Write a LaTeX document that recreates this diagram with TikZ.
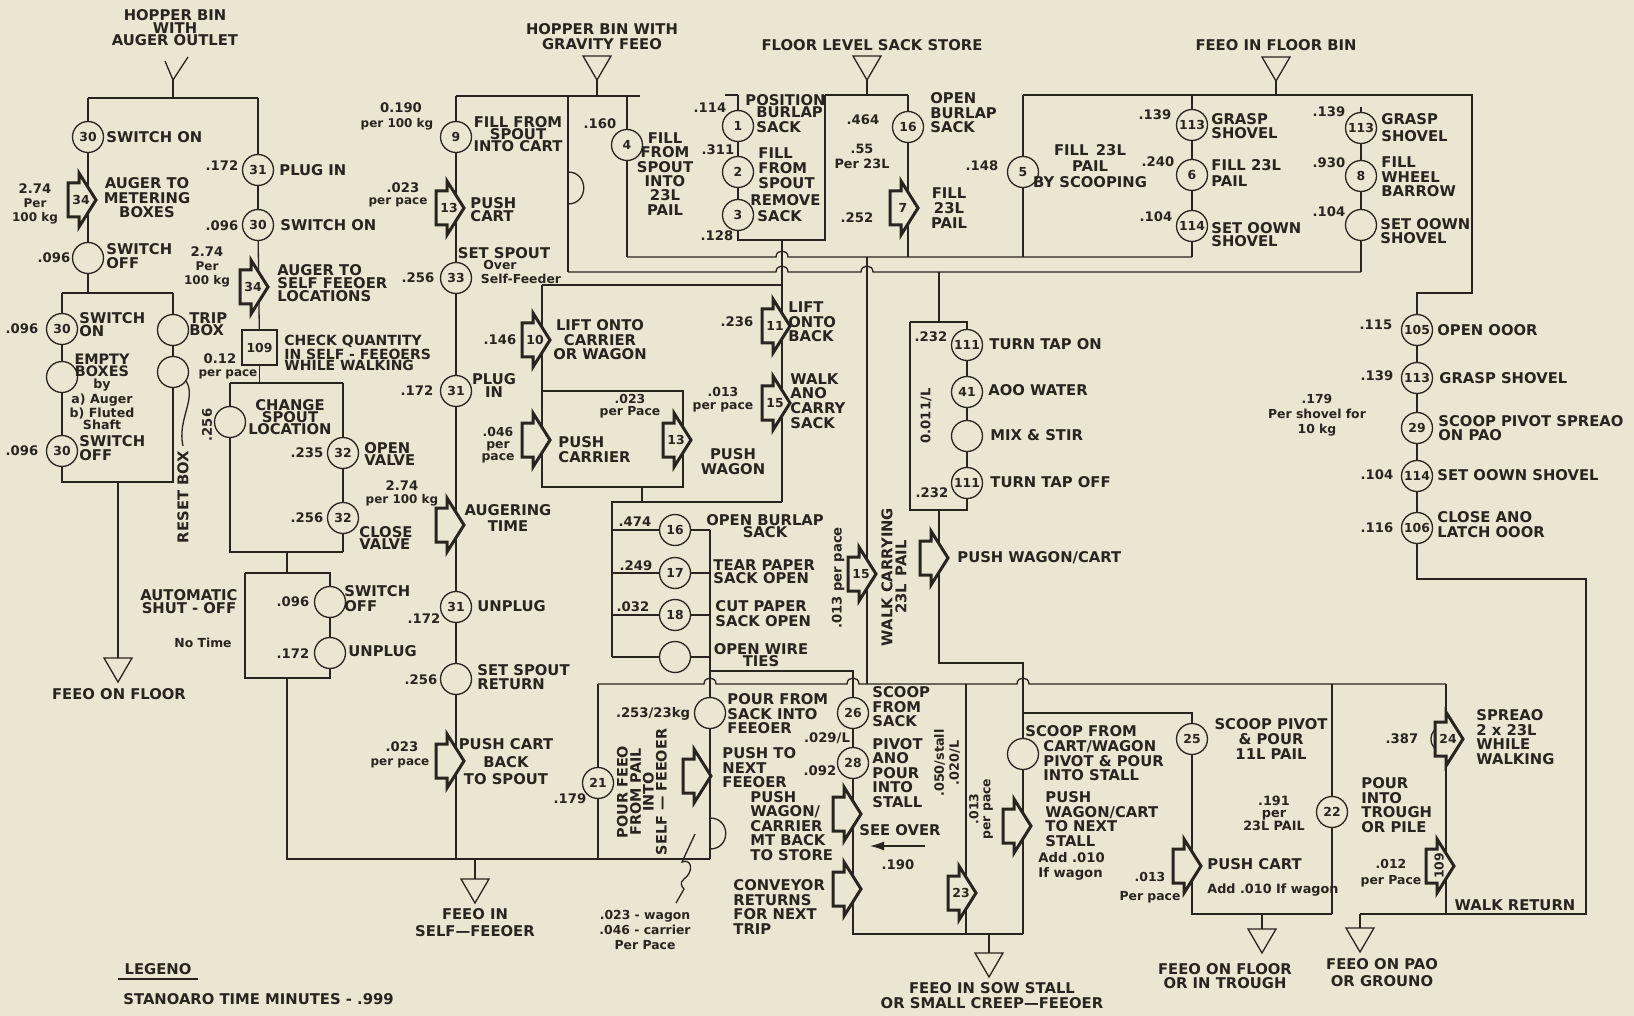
\documentclass[tikz,border=0pt]{standalone}
\usepackage{fontspec}
\setmainfont{DejaVu Sans}
\usetikzlibrary{arrows.meta}
\definecolor{bg}{RGB}{234,230,209}
\definecolor{ink}{RGB}{40,36,32}
\newcommand\myfs[2]{\fontsize{#1}{#2}\selectfont\bfseries}
\tikzset{
 ln/.style={draw=ink, line width=0.65pt},
 circ/.style={circle, draw=ink, line width=0.65pt, fill=bg, minimum size=15.5pt, inner sep=0pt, text=ink, font=\myfs{6.2}{7}},
 lab/.style={anchor=west, align=left, inner sep=0pt, text=ink, font=\myfs{7.4}{7.3}},
 ctr/.style={anchor=center, align=center, inner sep=0pt, text=ink, font=\myfs{7.4}{7.3}},
 val/.style={anchor=center, align=center, inner sep=0pt, text=ink, font=\myfs{6.6}{7}},
 sml/.style={anchor=center, align=center, inner sep=0pt, text=ink, font=\myfs{6}{7}},
 barr/.style={draw=ink, line width=1.5pt, fill=bg, line join=miter, miter limit=4},
 anum/.style={inner sep=0pt, text=ink, font=\myfs{6.2}{7}},
}
\newcommand\mylab[4][]{\node[lab,#1] (#2) at (#3) {#4};}
\newcommand\myctr[4][]{\node[ctr,#1] (#2) at (#3) {#4};}
\newcommand\myval[4][]{\node[val,#1] (#2) at (#3) {#4};}
\newcommand\mysml[4][]{\node[sml,#1] (#2) at (#3) {#4};}
\newcommand\mycirc[3]{\node[circ] (#1) at (#2) {#3};}
\newcommand\mytri[2]{\draw[ln] ({#1-14},#2) -- ({#1+14},#2) -- (#1,{#2+24}) -- cycle;}
\newcommand\myarr[4]{%
 \draw[barr] ({#2-20},{#3-17}) -- ({#2-9},{#3-17}) -- ({#2-9},{#3-27}) -- ({#2+8},{#3}) -- ({#2-9},{#3+27}) -- ({#2-9},{#3+17}) -- ({#2-20},{#3+17}) -- cycle;
 \node[anum] (#1) at ({#2-7},{#3}) {#4};}
\begin{document}
\begin{tikzpicture}[x=0.5pt,y=-0.5pt]
\fill[bg] (0,0) rectangle (1634,1016);
\useasboundingbox (0,0) rectangle (1634,1016);

%% ===== circles =====
\mycirc{c30a}{88,137}{30}
\mycirc{coff1}{88,258}{}
\mycirc{c30b}{62,329}{30}
\mycirc{cemp}{62,377}{}
\mycirc{c30c}{62,451}{30}
\mycirc{ctrip}{173,330}{}
\mycirc{creset}{173,372}{}
\mycirc{c31a}{258,170}{31}
\mycirc{c30d}{258,225}{30}
\node[draw=ink, line width=0.65pt, fill=bg, minimum width=17.5pt, minimum height=17.5pt, inner sep=0pt, text=ink, font=\myfs{6.2}{7}] (b109) at (259.5,347.5) {109};
\mycirc{ccs}{230,422}{}
\mycirc{c32a}{343,453}{32}
\mycirc{c32b}{343,518}{32}
\mycirc{cso}{330,602}{}
\mycirc{cup}{330,653}{}
\mycirc{c9}{456,137}{9}
\mycirc{c33}{456,278}{33}
\mycirc{c31b}{456,391}{31}
\mycirc{c31c}{456,607}{31}
\mycirc{cssr}{456,679}{}
\mycirc{c4}{627,145}{4}
\mycirc{c1}{738,126}{1}
\mycirc{c2}{738,172}{2}
\mycirc{c3}{738,215}{3}
\mycirc{c16a}{908,127}{16}
\mycirc{c5}{1023,172}{5}
\mycirc{c113a}{1192,125}{113}
\mycirc{c6}{1192,175}{6}
\mycirc{c114a}{1192,226}{114}
\mycirc{c113b}{1361,128}{113}
\mycirc{c8}{1361,176}{8}
\mycirc{csd}{1361,225}{}
\mycirc{c105}{1417,330}{105}
\mycirc{c113c}{1417,378}{113}
\mycirc{c29}{1417,428}{29}
\mycirc{c114b}{1417,476}{114}
\mycirc{c106}{1417,528}{106}
\mycirc{c111a}{967,345}{111}
\mycirc{c41}{967,392}{41}
\mycirc{cmix}{967,436}{}
\mycirc{c111b}{967,483}{111}
\mycirc{c16b}{675,530}{16}
\mycirc{c17}{675,573}{17}
\mycirc{c18}{675,615}{18}
\mycirc{cwire}{675,657}{}
\mycirc{c21}{598,783}{21}
\mycirc{cpour}{710,713}{}
\mycirc{c26}{853,713}{26}
\mycirc{c28}{853,763}{28}
\mycirc{cscw}{1023,754}{}
\mycirc{c25}{1192,739}{25}
\mycirc{c22}{1332,812}{22}
\node[circ, minimum size=14pt] (c24) at (1445,739) {};

%% ===== coordinates =====
\coordinate (p1) at (88,98); \coordinate (p2) at (258,98); \coordinate (p3) at (173,98);
\coordinate (ya) at (165,61); \coordinate (yb) at (188,57); \coordinate (yc) at (173,80);
\coordinate (p4) at (88,293); \coordinate (p5) at (62,293); \coordinate (p6) at (173,293);
\coordinate (p7) at (62,482); \coordinate (p8) at (173,482);
\coordinate (p9) at (118,482); \coordinate (p10) at (118,658);
\coordinate (q1) at (259.5,383); \coordinate (q2) at (230,383); \coordinate (q3) at (343,383);
\coordinate (q4) at (230,552); \coordinate (q5) at (343,552);
\coordinate (q6) at (287,552); \coordinate (q7) at (287,573); \coordinate (q8) at (245,573);
\coordinate (q9) at (330,573); \coordinate (q10) at (245,678); \coordinate (q11) at (330,678);
\coordinate (q12) at (287,678); \coordinate (q13) at (287,859); \coordinate (q14) at (710,859);
\coordinate (r1) at (456,96); \coordinate (r2) at (640,96); \coordinate (r3) at (597,96);
\coordinate (r4) at (456,859); \coordinate (r5) at (475,859); \coordinate (r6) at (475,879);
\coordinate (s1) at (568,96); \coordinate (s2) at (568,172); \coordinate (s3) at (568,204);
\coordinate (s4) at (568,272); \coordinate (s5) at (627,96); \coordinate (s6) at (627,257);
\coordinate (s7) at (1361,272); \coordinate (s8) at (1192,257);
\coordinate (u1) at (725,95); \coordinate (u2) at (908,95); \coordinate (u3) at (738,95);
\coordinate (u4) at (738,240); \coordinate (u5) at (825,240); \coordinate (u6) at (825,95);
\coordinate (u7) at (782,240); \coordinate (u8) at (782,502); \coordinate (u9) at (867,95);
\coordinate (u10) at (908,257);
\coordinate (v1) at (1023,95); \coordinate (v2) at (1472,95); \coordinate (v3) at (1023,257);
\coordinate (v4) at (1192,95); \coordinate (v5) at (1361,107); \coordinate (v6) at (1361,272);
\coordinate (v7) at (1472,293); \coordinate (v8) at (1417,293); \coordinate (v9) at (1276,95);
\coordinate (w1) at (1417,579); \coordinate (w2) at (1586,579); \coordinate (w3) at (1586,914);
\coordinate (w4) at (1360,914);
\coordinate (x1) at (542,285); \coordinate (x2) at (782,285); \coordinate (x3) at (542,391);
\coordinate (x4) at (683,487); \coordinate (x5) at (642,487); \coordinate (x6) at (642,502);
\coordinate (x7) at (612,502); \coordinate (x8) at (612,657);
\coordinate (x9) at (612,530); \coordinate (x10) at (710,530); \coordinate (x11) at (612,573);
\coordinate (x12) at (710,573); \coordinate (x13) at (612,615); \coordinate (x14) at (710,615);
\coordinate (x15) at (710,657); \coordinate (x16) at (710,671); \coordinate (x17) at (853,671);
\coordinate (z1) at (598,684); \coordinate (z2) at (1446,684); \coordinate (z3) at (598,859);
\coordinate (z4) at (710,818); \coordinate (z5) at (710,849);
\coordinate (z6) at (853,934); \coordinate (z7) at (1023,934); \coordinate (z8) at (966,684);
\coordinate (z9) at (966,934); \coordinate (z10) at (989,934); \coordinate (z11) at (989,953);
\coordinate (z12) at (925,846); \coordinate (z13) at (870,846);
\coordinate (z14) at (867,257); \coordinate (z15) at (867,684);
\coordinate (z16) at (1023,713); \coordinate (z17) at (1192,713);
\coordinate (w5) at (939,272); \coordinate (w6) at (939,322); \coordinate (w7) at (910,322);
\coordinate (w8) at (967,322); \coordinate (w9) at (910,510); \coordinate (w10) at (967,510);
\coordinate (w11) at (939,510); \coordinate (w12) at (939,663); \coordinate (w13) at (1023,663);
\coordinate (w14) at (1192,914); \coordinate (w15) at (1332,914); \coordinate (w16) at (1332,684);
\coordinate (w17) at (1262,914); \coordinate (w18) at (1262,929);
\coordinate (w19) at (1446,914); \coordinate (w21) at (1360,928);
\coordinate (g1) at (118,979); \coordinate (g2) at (198,979);

%% ===== sources and sinks =====
\draw[ln] (ya) -- (yc) -- (yb); \draw[ln] (yc) -- (p3);
\mytri{597}{56} \draw[ln] (597,80) -- (r3);
\mytri{867}{56} \draw[ln] (867,80) -- (u9);
\mytri{1276}{57} \draw[ln] (1276,81) -- (v9);
\mytri{118}{658}
\mytri{475}{879}
\mytri{989}{953}
\mytri{1262}{929}
\mytri{1360}{928}

%% ===== connectors =====
\draw[ln] (p1) -- (p2);
\draw[ln] (p1) -- (c30a); \draw[ln] (c30a) -- (coff1); \draw[ln] (coff1) -- (p4);
\draw[ln] (p5) -- (p6);
\draw[ln] (p5) -- (c30b); \draw[ln] (c30b) -- (cemp); \draw[ln] (cemp) -- (c30c);
\draw[ln] (c30c) -- (p7) -- (p8) -- (creset);
\draw[ln] (creset) -- (ctrip); \draw[ln] (ctrip) -- (p6);
\draw[ln] (186,381) .. controls (197,398) and (177,420) .. (183,446);
\draw[ln] (p9) -- (p10);
\draw[ln] (p2) -- (c31a); \draw[ln] (c31a) -- (c30d); \draw[ln] (c30d) -- (b109);
\draw[ln] (b109) -- (q1);
\draw[ln] (q2) -- (q3);
\draw[ln] (q2) -- (ccs); \draw[ln] (ccs) -- (q4) -- (q5);
\draw[ln] (q3) -- (c32a); \draw[ln] (c32a) -- (c32b); \draw[ln] (c32b) -- (q5);
\draw[ln] (q6) -- (q7);
\draw[ln] (q8) -- (q9) -- (cso); \draw[ln] (cso) -- (cup); \draw[ln] (cup) -- (q11) -- (q10) -- (q8);
\draw[ln] (q12) -- (q13) -- (q14);
\draw[ln] (r1) -- (r2);
\draw[ln] (r1) -- (c9); \draw[ln] (c9) -- (c33); \draw[ln] (c33) -- (c31b);
\draw[ln] (c31b) -- (c31c); \draw[ln] (c31c) -- (cssr); \draw[ln] (cssr) -- (r4);
\draw[ln] (r5) -- (r6);
\draw[ln] (s1) -- (s4);
\draw[ln] (s2) .. controls (589,172) and (589,204) .. (s3);
\draw[ln] (s5) -- (c4) -- (s6);
\draw[ln] (s4) -- (776,272) .. controls (776,264) and (788,264) .. (788,272) -- (861,272) .. controls (861,264) and (873,264) .. (873,272) -- (s7);
\draw[ln] (s6) -- (776,257) .. controls (776,249) and (788,249) .. (788,257) -- (s8);
\draw[ln] (u1) -- (u3); \draw[ln] (u6) -- (u2);
\draw[ln] (u3) -- (c1); \draw[ln] (c1) -- (c2); \draw[ln] (c2) -- (c3);
\draw[ln] (c3) -- (u4) -- (u5) -- (u6);
\draw[ln] (u7) -- (u8);
\draw[ln] (u2) -- (c16a) -- (u10);
\draw[ln] (v1) -- (v2) -- (v7) -- (v8) -- (c105);
\draw[ln] (v1) -- (c5) -- (v3);
\draw[ln] (v4) -- (c113a); \draw[ln] (c113a) -- (c6); \draw[ln] (c6) -- (c114a); \draw[ln] (c114a) -- (s8);
\draw[ln] (v5) -- (c113b); \draw[ln] (c113b) -- (c8); \draw[ln] (c8) -- (csd); \draw[ln] (csd) -- (v6);
\draw[ln] (c105) -- (c113c); \draw[ln] (c113c) -- (c29); \draw[ln] (c29) -- (c114b);
\draw[ln] (c114b) -- (c106); \draw[ln] (c106) -- (w1) -- (w2) -- (w3) -- (w4);
\draw[ln] (x1) -- (x2); \draw[ln] (x1) -- (x3);
\draw[ln] (x3) rectangle (x4);
\draw[ln] (x5) -- (x6); \draw[ln] (u8) -- (x7) -- (x8);
\draw[ln] (x9) -- (c16b) -- (x10); \draw[ln] (x11) -- (c17) -- (x12);
\draw[ln] (x13) -- (c18) -- (x14); \draw[ln] (x8) -- (cwire) -- (x15);
\draw[ln] (x10) -- (cpour);
\draw[ln] (x16) -- (x17) -- (c26);
\draw[ln] (z1) -- (704,684) .. controls (704,676) and (716,676) .. (716,684) -- (847,684) .. controls (847,676) and (859,676) .. (859,684) -- (1017,684) .. controls (1017,676) and (1029,676) .. (1029,684) -- (z2);
\draw[ln] (z1) -- (c21) -- (z3);
\draw[ln] (cpour) -- (z4); \draw[ln] (z4) -- (q14);
\draw[ln] (z4) .. controls (731,818) and (731,849) .. (z5);
\draw[ln] (c26) -- (c28); \draw[ln] (c28) -- (z6) -- (z7);
\draw[ln] (z8) -- (z9);
\draw[ln] (z10) -- (z11);
\draw[ln, -{Latex[length=7pt,width=4.5pt]}] (z12) -- (z13);
\draw[ln] (z14) -- (z15);
\draw[ln] (w5) -- (w6);
\draw[ln] (w7) -- (w8) -- (c111a); \draw[ln] (c111a) -- (c41); \draw[ln] (c41) -- (cmix);
\draw[ln] (cmix) -- (c111b); \draw[ln] (c111b) -- (w10) -- (w9) -- (w7);
\draw[ln] (w11) -- (w12) -- (w13) -- (cscw); \draw[ln] (cscw) -- (z7);
\draw[ln] (z16) -- (z17) -- (c25); \draw[ln] (c25) -- (w14) -- (w15);
\draw[ln] (w16) -- (c22) -- (w15);
\draw[ln] (w17) -- (w18);
\draw[ln] (z2) -- (w19);
\draw[ln] (w4) -- (w21);
\draw[ln] (g1) -- (g2);

%% ===== block arrows =====
\myarr{a34a}{88}{200}{34}
\myarr{a34b}{260}{287}{34}
\myarr{a13a}{456}{208}{13}
\myarr{aaug}{456}{525}{}
\myarr{apcb}{456}{761}{}
\myarr{a7}{910}{208}{7}
\myarr{a10}{542}{340}{10}
\myarr{apc}{542}{440}{}
\myarr{a13b}{683}{440}{13}
\myarr{a11}{782}{326}{11}
\myarr{a15a}{782}{403}{15}
\myarr{a15b}{868}{574}{15}
\myarr{apwc}{940}{558}{}
\myarr{apn}{703}{776}{}
\myarr{amt}{853}{814}{}
\myarr{acr}{853}{889}{}
\myarr{a23}{968}{893}{23}
\myarr{apwc2}{1023}{826}{}
\myarr{apc2}{1193}{866}{}
\myarr{a24}{1455}{739}{24}
\myarr{a109}{1446}{866}{}
\node[anum, rotate=90] (n109) at (1439,866) {109};

%% ===== labels =====
\myctr[font=\myfs{7.4}{6.3}]{t1}{175,28}{HOPPER BIN\\WITH\\AUGER OUTLET}
\myctr[font=\myfs{7.4}{7.5}]{t2}{602,37}{HOPPER BIN WITH\\GRAVITY FEEO}
\myctr{t3}{872,45}{FLOOR LEVEL SACK STORE}
\myctr{t4}{1276,45}{FEEO IN FLOOR BIN}
\mylab{l1}{106,137}{SWITCH ON}
\mysml{l2}{35,204}{{\myfs{6.6}{7}2.74}\\Per\\100 kg}
\myctr{l3}{147,198}{AUGER TO\\METERING\\BOXES}
\myval{l4}{54,258}{.096}
\mylab{l5}{106,256}{SWITCH\\OFF}
\myval{l6}{22,329}{.096}
\mylab[font=\myfs{7.4}{6.5}]{l7}{79,325}{SWITCH\\ON}
\myctr[font=\myfs{6.3}{6.1}]{l8}{102,392}{{\myfs{7.2}{6.1}EMPTY}\\{\myfs{7.2}{6.1}BOXES}\\by\\a)\ Auger\\b)\ Fluted\\Shaft}
\myval{l9}{22,451}{.096}
\mylab{l10}{79,448}{SWITCH\\OFF}
\mylab[font=\myfs{7.4}{6}]{l11}{189,324}{TRIP\\BOX}
\myctr[rotate=90]{l12}{183,497}{RESET BOX}
\myctr{l13}{119,694}{FEEO ON FLOOR}
\myval{l14}{222,166}{.172}
\mylab{l15}{279,170}{PLUG IN}
\myval{l16}{222,226}{.096}
\mylab{l17}{280,225}{SWITCH ON}
\mysml{l18}{207,267}{{\myfs{6.6}{7}2.74}\\Per\\100 kg}
\mylab[font=\myfs{7.4}{6.5}]{l19}{277,283}{AUGER TO\\SELF FEEOER\\LOCATIONS}
\mylab[font=\myfs{7}{5.4}]{l20}{284,353}{CHECK QUANTITY\\IN SELF - FEEOERS\\WHILE WALKING}
\myval{l21}{220,359}{0.12}
\mysml{l22}{228,374}{per pace}
\myval[rotate=90]{l23}{207,425}{.256}
\myctr[font=\myfs{7.4}{6.1}]{l24}{290,417}{CHANGE\\SPOUT\\LOCATION}
\myval{l25}{307,453}{.235}
\mylab[font=\myfs{7.4}{6.2}]{l26}{364,454}{OPEN\\VALVE}
\myval{l27}{307,518}{.256}
\mylab[font=\myfs{7.4}{6.2}]{l28}{359,538}{CLOSE\\VALVE}
\myval{l29}{293,602}{.096}
\mylab[font=\myfs{7.4}{7.5}]{l30}{344,599}{SWITCH\\OFF}
\myval{l31}{293,654}{.172}
\mylab{l32}{348,651}{UNPLUG}
\myctr[font=\myfs{7.4}{6.5}]{l33}{189,602}{AUTOMATIC\\SHUT - OFF}
\mysml[font=\myfs{6.2}{7}]{l34}{203,643}{No Time}
\myval{l35}{401,108}{0.190}
\mysml{l36}{397,124}{per 100 kg}
\myctr[font=\myfs{7.4}{6}]{l37}{518,134}{FILL FROM\\SPOUT\\INTO CART}
\myval{l38}{403,188}{.023}
\mysml{l39}{398,202}{per pace}
\mylab[font=\myfs{7.4}{6.5}]{l40}{470,210}{PUSH\\CART}
\myctr{l41}{504,253}{SET SPOUT}
\mysml[font=\myfs{6.2}{7}]{l42}{500,265}{Over}
\mysml[font=\myfs{6.2}{7}]{l43}{521,279}{Self-Feeder}
\myval{l44}{418,278}{.256}
\myval{l45}{417,391}{.172}
\myctr[font=\myfs{7.4}{6.5}]{l46}{494,386}{PLUG\\IN}
\myval{l47}{402,486}{2.74}
\mysml{l48}{402,500}{per 100 kg}
\myctr[font=\myfs{7.4}{8}]{l49}{508,518}{AUGERING\\TIME}
\myval{l50}{424,619}{.172}
\mylab{l51}{477,606}{UNPLUG}
\myval{l52}{421,680}{.256}
\mylab{l53}{477,677}{SET SPOUT\\RETURN}
\myval{l54}{402,747}{.023}
\mysml{l55}{400,763}{per pace}
\myctr[font=\myfs{7.4}{8.7}]{l56}{506,762}{PUSH CART\\BACK\\TO SPOUT}
\myctr[font=\myfs{7.4}{8.5}]{l57}{475,923}{FEEO IN\\SELF—FEEOER}
\myval{l58}{600,124}{.160}
\myctr[font=\myfs{7.4}{7.2}]{l59}{665,174}{FILL\\FROM\\SPOUT\\INTO\\23L\\PAIL}
\myval{l60}{710,108}{.114}
\myval{l61}{718,150}{.311}
\myval{l62}{717,236}{.128}
\mylab{l63}{745,100}{POSITION}
\mylab{l64}{756,120}{BURLAP\\SACK}
\mylab[font=\myfs{7.4}{7.5}]{l65}{758,168}{FILL\\FROM\\SPOUT}
\mylab{l66}{750,200}{REMOVE}
\mylab{l67}{757,216}{SACK}
\myval{l68}{863,120}{.464}
\mylab[font=\myfs{7.4}{7.2}]{l69}{930,113}{OPEN\\BURLAP\\SACK}
\myctr[font=\myfs{6.4}{7.5}]{l70}{862,156}{.55\\Per 23L}
\myval{l71}{857,218}{.252}
\myctr[font=\myfs{7.4}{7.5}]{l72}{949,208}{FILL\\23L\\PAIL}
\myval{l73}{982,166}{.148}
\myctr[font=\myfs{7.4}{8}]{l74}{1090,166}{FILL\enspace 23L\\PAIL\\BY SCOOPING}
\myval{l75}{1155,115}{.139}
\myval{l76}{1158,162}{.240}
\myval{l77}{1156,217}{.104}
\mylab{l78}{1211,126}{GRASP\\SHOVEL}
\mylab[font=\myfs{7.4}{8}]{l79}{1211,173}{FILL 23L\\PAIL}
\mylab[font=\myfs{7.4}{6.5}]{l80}{1211,235}{SET OOWN\\SHOVEL}
\myval{l81}{1329,112}{.139}
\myval{l82}{1329,163}{.930}
\myval{l83}{1329,212}{.104}
\mylab[font=\myfs{7.4}{8.5}]{l84}{1381,128}{GRASP\\SHOVEL}
\mylab{l85}{1381,177}{FILL\\WHEEL\\BARROW}
\mylab{l86}{1380,231}{SET OOWN\\SHOVEL}
\myval{l87}{1376,325}{.115}
\mylab{l88}{1437,330}{OPEN OOOR}
\myval{l89}{1377,376}{.139}
\mylab{l90}{1439,378}{GRASP SHOVEL}
\mylab{l91}{1438,428}{SCOOP PIVOT SPREAO\\ON PAO}
\myval{l92}{1377,475}{.104}
\mylab{l93}{1437,475}{SET OOWN SHOVEL}
\myval{l94}{1377,528}{.116}
\mylab[font=\myfs{7.4}{7.5}]{l95}{1437,525}{CLOSE ANO\\LATCH OOOR}
\myctr[font=\myfs{6.2}{7.5}]{l96}{1317,415}{.179\\Per shovel for\\10 kg}
\myval{l97}{500,340}{.146}
\myctr[font=\myfs{7.4}{7.2}]{l98}{600,340}{LIFT ONTO\\CARRIER\\OR WAGON}
\mysml[font=\myfs{6.2}{6}]{l99}{498,445}{.046\\per\\pace}
\mylab[font=\myfs{7.4}{7.5}]{l100}{558,450}{PUSH\\CARRIER}
\mysml[font=\myfs{6.2}{6.2}]{l101}{630,406}{.023\\per Pace}
\myctr[font=\myfs{7.4}{7.5}]{l102}{733,462}{PUSH\\WAGON}
\myval{l103}{737,322}{.236}
\mylab{l104}{788,322}{LIFT\\ONTO\\BACK}
\mysml[font=\myfs{6.2}{6.5}]{l105}{723,400}{.013\\per pace}
\mylab{l106}{790,401}{WALK\\ANO\\CARRY\\SACK}
\myval{l107}{635,522}{.474}
\myval{l108}{636,566}{.249}
\myval{l109}{633,607}{.032}
\myctr[font=\myfs{7.4}{6}]{l110}{765,526}{OPEN BURLAP\\SACK}
\mylab[font=\myfs{7.4}{6.5}]{l111}{713,572}{TEAR PAPER\\SACK OPEN}
\mylab[font=\myfs{7.4}{7.5}]{l112}{715,614}{CUT PAPER\\SACK OPEN}
\myctr[font=\myfs{7.4}{6}]{l113}{761,655}{OPEN WIRE\\TIES}
\myval[rotate=90]{l114}{838,578}{.013 per pace}
\myctr[rotate=90, font=\myfs{7.4}{7}]{l115}{894,577}{WALK CARRYING\\23L\enspace PAIL}
\mylab{l116}{957,558}{PUSH WAGON/CART}
\myval{l117}{931,337}{.232}
\myval{l118}{932,493}{.232}
\myval[rotate=90]{l119}{926,416}{0.011/L}
\mylab{l120}{989,344}{TURN TAP ON}
\mylab{l121}{988,390}{AOO WATER}
\mylab{l122}{990,435}{MIX \& STIR}
\mylab{l123}{990,482}{TURN TAP OFF}
\myval{l124}{570,799}{.179}
\myval{l125}{653,714}{.253/23kg}
\myctr[rotate=90, font=\myfs{7.2}{6.5}]{l126}{642,792}{POUR FEEO\\FROM PAIL\\INTO\\SELF — FEEOER}
\mylab{l127}{727,714}{POUR FROM\\SACK INTO\\FEEOER}
\mylab{l128}{722,768}{PUSH TO\\NEXT\\FEEOER}
\mylab{l129}{750,826}{PUSH\\WAGON/\\CARRIER\\MT BACK\\TO STORE}
\mysml[font=\myfs{6.2}{7.6}]{l130}{645,930}{.023 - wagon\\.046 - carrier\\Per Pace}
\draw[ln] (695,834) -- (682,862) .. controls (692,858) and (694,872) .. (684,879) .. controls (679,883) and (682,887) .. (684,889) -- (676,903);
\mylab{l131}{733,907}{CONVEYOR\\RETURNS\\FOR NEXT\\TRIP}
\mylab{l132}{872,707}{SCOOP\\FROM\\SACK}
\myval{l133}{827,738}{.029/L}
\myval{l134}{820,771}{.092}
\mylab{l135}{872,773}{PIVOT\\ANO\\POUR\\INTO\\STALL}
\myctr{l136}{900,830}{SEE OVER}
\myval{l137}{898,865}{.190}
\myval[rotate=90, font=\myfs{6.4}{7.5}]{l138}{947,763}{.050/stall\\.020/L}
\myval[rotate=90, font=\myfs{6.2}{6}]{l139}{981,809}{.013\\per pace}
\myctr[font=\myfs{7.4}{7.5}]{l140}{992,996}{FEEO IN SOW STALL\\OR SMALL CREEP—FEEOER}
\mylab{l141}{1025,731}{SCOOP FROM}
\mylab{l142}{1043,761}{CART/WAGON\\PIVOT \& POUR\\INTO STALL}
\mylab{l143}{1045,819}{PUSH\\WAGON/CART\\TO NEXT\\STALL}
\mylab[font=\myfs{6.6}{7.5}]{l144}{1038,866}{Add .010\\If wagon}
\myctr{l145}{1271,739}{SCOOP PIVOT\\\& POUR\\11L PAIL}
\myctr[font=\myfs{6.4}{6.3}]{l146}{1274,813}{.191\\per\\23L PAIL}
\mysml[font=\myfs{6.2}{9.5}]{l147}{1150,888}{.013\\Per pace}
\mylab{l148}{1207,864}{PUSH CART}
\mylab[font=\myfs{6.4}{7}]{l149}{1207,890}{Add .010 If wagon}
\myctr[font=\myfs{7.4}{7}]{l150}{1225,976}{FEEO ON FLOOR\\OR IN TROUGH}
\mylab{l151}{1361,805}{POUR\\INTO\\TROUGH\\OR PILE}
\myval{l152}{1402,739}{.387}
\mylab{l153}{1476,737}{SPREAO\\2 x 23L\\WHILE\\WALKING}
\mysml[font=\myfs{6.2}{8}]{l154}{1391,873}{.012\\per Pace}
\myctr[font=\myfs{7.4}{8.5}]{l155}{1382,973}{FEEO ON PAO\\OR GROUNO}
\myctr{l156}{1515,905}{WALK RETURN}
\myctr{l157}{158,969}{LEGENO}
\mylab{l158}{123,999}{STANOARO TIME MINUTES - .999}
\end{tikzpicture}
\end{document}
